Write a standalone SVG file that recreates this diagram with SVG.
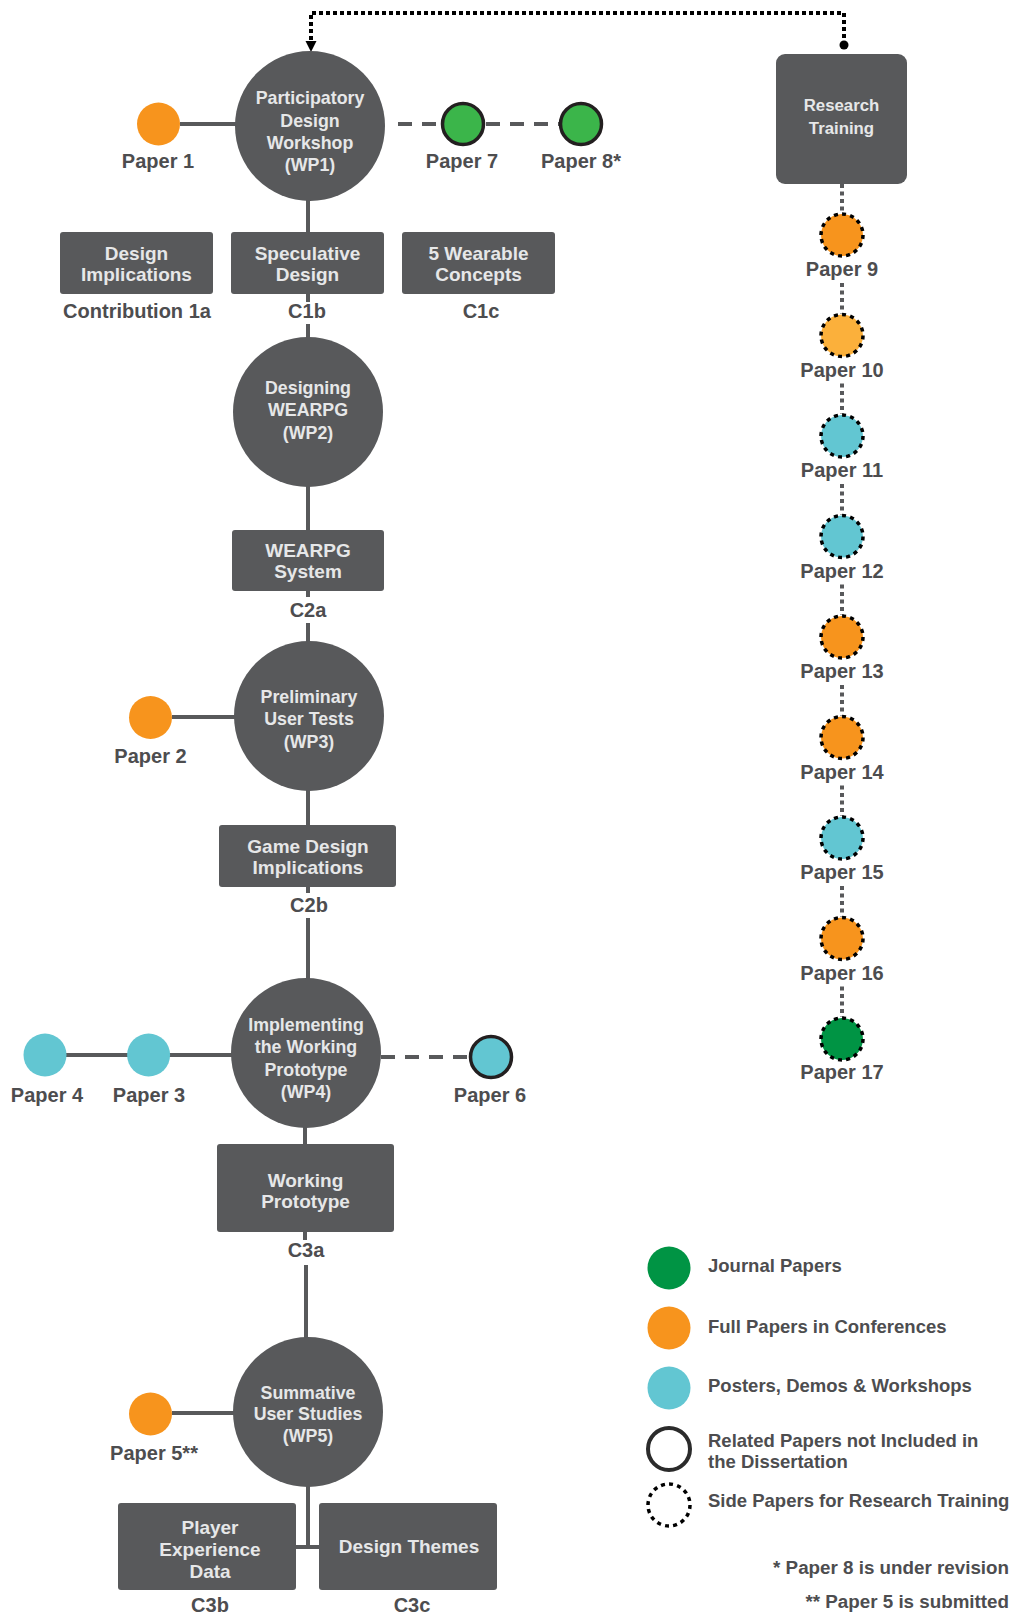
<svg xmlns="http://www.w3.org/2000/svg" width="1019" height="1617" viewBox="0 0 1019 1617">
<defs>
<style>
.wp{fill:#58595b}
.box{fill:#58595b}
.in{font-family:"Liberation Sans",Arial,sans-serif;font-weight:bold;fill:#e6e7e8;text-anchor:middle}
.wpt{font-size:17.8px}
.bxt{font-size:19px}
.lbl{font-family:"Liberation Sans",Arial,sans-serif;font-weight:bold;fill:#4d4d4f;font-size:20px;text-anchor:middle}
.leg{font-family:"Liberation Sans",Arial,sans-serif;font-weight:bold;fill:#4d4d4f;font-size:18.5px}
.foot{font-family:"Liberation Sans",Arial,sans-serif;font-weight:bold;fill:#4d4d4f;font-size:18.8px;text-anchor:end}
.solid{stroke:#58595b;stroke-width:4;fill:none}
.dash{stroke:#58595b;stroke-width:4;fill:none;stroke-dasharray:14 10}
.dot{stroke:#58595b;stroke-width:4;fill:none;stroke-dasharray:4 3.5}
.orange{fill:#f7941d}
.lorange{fill:#fbb03b}
.cyan{fill:#62c6d2}
.green{fill:#3bb54a}
.dgreen{fill:#009444}
.rel{stroke:#231f20;stroke-width:3.5}
.side{stroke:#000;stroke-width:3.5;stroke-dasharray:4 4.2}
</style>
<marker id="ah" markerUnits="userSpaceOnUse" markerWidth="12" markerHeight="12" refX="6" refY="10" orient="auto-start-reverse" viewBox="0 0 12 12">
<path d="M1,0 L11,0 L6,10 Z" fill="#000"/>
</marker>
</defs>

<g id="connectors">
<path d="M844,45 V13 H311 V42" fill="none" stroke="#000" stroke-width="4" stroke-dasharray="4 3"/>
<path d="M305.5,41 L316.5,41 L311,52 Z" fill="#000"/>
<circle cx="844" cy="45" r="4.5" fill="#000"/>
<line class="solid" x1="180" y1="124" x2="236" y2="124"/>
<line class="dash" x1="398" y1="124" x2="442" y2="124"/>
<line class="dash" x1="486" y1="124" x2="560" y2="124"/>
<line class="solid" x1="308" y1="200" x2="308" y2="233"/>
<line class="solid" x1="308" y1="293" x2="308" y2="302"/>
<line class="solid" x1="308" y1="324" x2="308" y2="338"/>
<line class="solid" x1="308" y1="486" x2="308" y2="531"/>
<line class="solid" x1="308" y1="590" x2="308" y2="597"/>
<line class="solid" x1="308" y1="623" x2="308" y2="642"/>
<line class="solid" x1="172" y1="717" x2="235" y2="717"/>
<line class="solid" x1="308" y1="790" x2="308" y2="826"/>
<line class="solid" x1="308" y1="886" x2="308" y2="893"/>
<line class="solid" x1="308" y1="918" x2="308" y2="979"/>
<line class="solid" x1="66" y1="1055" x2="232" y2="1055"/>
<line class="dash" x1="381" y1="1057" x2="470" y2="1057"/>
<line class="solid" x1="305" y1="1127" x2="305" y2="1145"/>
<line class="solid" x1="305" y1="1231" x2="305" y2="1240"/>
<line class="solid" x1="306" y1="1265" x2="306" y2="1338"/>
<line class="solid" x1="172" y1="1413" x2="234" y2="1413"/>
<path class="solid" d="M308,1486 V1547 M296,1547 H320"/>
<line class="dot" x1="842" y1="184" x2="842" y2="213"/>
<line class="dot" x1="842" y1="283" x2="842" y2="313.5"/>
<line class="dot" x1="842" y1="383.5" x2="842" y2="414"/>
<line class="dot" x1="842" y1="484" x2="842" y2="514.5"/>
<line class="dot" x1="842" y1="584.5" x2="842" y2="615"/>
<line class="dot" x1="842" y1="685" x2="842" y2="715.5"/>
<line class="dot" x1="842" y1="785.5" x2="842" y2="816"/>
<line class="dot" x1="842" y1="886" x2="842" y2="916.5"/>
<line class="dot" x1="842" y1="986.5" x2="842" y2="1017"/>
</g>

<g id="wp1">
<circle class="wp" cx="310" cy="126" r="75"/>
<text class="in wpt" x="310" y="104">Participatory</text>
<text class="in wpt" x="310" y="126.5">Design</text>
<text class="in wpt" x="310" y="149">Workshop</text>
<text class="in wpt" x="310" y="171">(WP1)</text>
</g>
<g id="paper1">
<circle class="orange" cx="158.5" cy="124" r="21.5"/>
<text class="lbl" x="158" y="168">Paper 1</text>
</g>
<g id="paper7">
<circle class="green rel" cx="463" cy="124" r="20.5"/>
<text class="lbl" x="462" y="168">Paper 7</text>
</g>
<g id="paper8">
<circle class="green rel" cx="581" cy="124" r="20.5"/>
<text class="lbl" x="581" y="168">Paper 8*</text>
</g>
<g id="c1a">
<rect class="box" x="60" y="232" width="153" height="62" rx="3"/>
<text class="in bxt" x="136.5" y="260">Design</text>
<text class="in bxt" x="136.5" y="280.5">Implications</text>
<text class="lbl" x="137" y="318">Contribution 1a</text>
</g>
<g id="c1b">
<rect class="box" x="231" y="232" width="153" height="62" rx="3"/>
<text class="in bxt" x="307.5" y="260">Speculative</text>
<text class="in bxt" x="307.5" y="280.5">Design</text>
<text class="lbl" x="307" y="318">C1b</text>
</g>
<g id="c1c">
<rect class="box" x="402" y="232" width="153" height="62" rx="3"/>
<text class="in bxt" x="478.5" y="260">5 Wearable</text>
<text class="in bxt" x="478.5" y="280.5">Concepts</text>
<text class="lbl" x="481" y="318">C1c</text>
</g>

<g id="wp2">
<circle class="wp" cx="308" cy="412" r="75"/>
<text class="in wpt" x="308" y="393.5">Designing</text>
<text class="in wpt" x="308" y="415.5">WEARPG</text>
<text class="in wpt" x="308" y="438.5">(WP2)</text>
</g>
<g id="c2a">
<rect class="box" x="232" y="530" width="152" height="61" rx="3"/>
<text class="in bxt" x="308" y="557">WEARPG</text>
<text class="in bxt" x="308" y="577.5">System</text>
<text class="lbl" x="308" y="617">C2a</text>
</g>

<g id="wp3">
<circle class="wp" cx="309" cy="716" r="75"/>
<text class="in wpt" x="309" y="702.5">Preliminary</text>
<text class="in wpt" x="309" y="724.5">User Tests</text>
<text class="in wpt" x="309" y="747.5">(WP3)</text>
</g>
<g id="paper2">
<circle class="orange" cx="150.5" cy="717.5" r="21.5"/>
<text class="lbl" x="150.5" y="763">Paper 2</text>
</g>
<g id="c2b">
<rect class="box" x="219" y="825" width="177" height="62" rx="3"/>
<text class="in bxt" x="308" y="853">Game Design</text>
<text class="in bxt" x="308" y="873.5">Implications</text>
<text class="lbl" x="309" y="912">C2b</text>
</g>

<g id="wp4">
<circle class="wp" cx="306" cy="1053" r="75"/>
<text class="in wpt" x="306" y="1030.5">Implementing</text>
<text class="in wpt" x="306" y="1053">the Working</text>
<text class="in wpt" x="306" y="1075.5">Prototype</text>
<text class="in wpt" x="306" y="1097.5">(WP4)</text>
</g>
<g id="paper4">
<circle class="cyan" cx="45" cy="1055" r="21.5"/>
<text class="lbl" x="47" y="1102">Paper 4</text>
</g>
<g id="paper3">
<circle class="cyan" cx="148.6" cy="1055" r="21.5"/>
<text class="lbl" x="149" y="1102">Paper 3</text>
</g>
<g id="paper6">
<circle class="cyan rel" cx="491" cy="1057" r="20.5"/>
<text class="lbl" x="490" y="1102">Paper 6</text>
</g>
<g id="c3a">
<rect class="box" x="217" y="1144" width="177" height="88" rx="3"/>
<text class="in bxt" x="305.5" y="1187">Working</text>
<text class="in bxt" x="305.5" y="1207.5">Prototype</text>
<text class="lbl" x="306" y="1257">C3a</text>
</g>

<g id="wp5">
<circle class="wp" cx="308" cy="1412" r="75"/>
<text class="in wpt" x="308" y="1398.5">Summative</text>
<text class="in wpt" x="308" y="1419.5">User Studies</text>
<text class="in wpt" x="308" y="1441.5">(WP5)</text>
</g>
<g id="paper5">
<circle class="orange" cx="150.5" cy="1414" r="21.5"/>
<text class="lbl" x="154" y="1460">Paper 5**</text>
</g>
<g id="c3b">
<rect class="box" x="118" y="1503" width="178" height="87" rx="3"/>
<text class="in bxt" x="210" y="1534">Player</text>
<text class="in bxt" x="210" y="1556">Experience</text>
<text class="in bxt" x="210" y="1578">Data</text>
<text class="lbl" x="210" y="1612">C3b</text>
</g>
<g id="c3c">
<rect class="box" x="319" y="1503" width="178" height="87" rx="3"/>
<text class="in bxt" x="409" y="1553">Design Themes</text>
<text class="lbl" x="412" y="1612">C3c</text>
</g>

<g id="research-training">
<rect class="box" x="776" y="54" width="131" height="130" rx="9"/>
<text class="in" x="841.5" y="111" font-size="16.8">Research</text>
<text class="in" x="841.5" y="134" font-size="16.8">Training</text>
</g>

<g id="paper9"><circle class="orange side" cx="842" cy="235" r="21"/><text class="lbl" x="842" y="276">Paper 9</text></g>
<g id="paper10"><circle class="lorange side" cx="842" cy="335.5" r="21"/><text class="lbl" x="842" y="376.5">Paper 10</text></g>
<g id="paper11"><circle class="cyan side" cx="842" cy="436" r="21"/><text class="lbl" x="842" y="477">Paper 11</text></g>
<g id="paper12"><circle class="cyan side" cx="842" cy="536.5" r="21"/><text class="lbl" x="842" y="577.5">Paper 12</text></g>
<g id="paper13"><circle class="orange side" cx="842" cy="637" r="21"/><text class="lbl" x="842" y="678">Paper 13</text></g>
<g id="paper14"><circle class="orange side" cx="842" cy="737.5" r="21"/><text class="lbl" x="842" y="778.5">Paper 14</text></g>
<g id="paper15"><circle class="cyan side" cx="842" cy="838" r="21"/><text class="lbl" x="842" y="879">Paper 15</text></g>
<g id="paper16"><circle class="orange side" cx="842" cy="938.5" r="21"/><text class="lbl" x="842" y="979.5">Paper 16</text></g>
<g id="paper17"><circle class="dgreen side" cx="842" cy="1039" r="21"/><text class="lbl" x="842" y="1079">Paper 17</text></g>

<g id="legend">
<circle class="dgreen" cx="669" cy="1268" r="21.5"/>
<text class="leg" x="708" y="1272">Journal Papers</text>
<circle class="orange" cx="669" cy="1328" r="21.5"/>
<text class="leg" x="708" y="1333">Full Papers in Conferences</text>
<circle class="cyan" cx="669" cy="1388" r="21.5"/>
<text class="leg" x="708" y="1392">Posters, Demos &amp; Workshops</text>
<circle cx="669" cy="1449" r="21" fill="#fff" stroke="#2b2b2b" stroke-width="4"/>
<text class="leg" x="708" y="1447">Related Papers not Included in</text>
<text class="leg" x="708" y="1468">the Dissertation</text>
<circle cx="669" cy="1505" r="21" fill="#fff" class="side"/>
<text class="leg" x="708" y="1507">Side Papers for Research Training</text>
<text class="foot" x="1009" y="1574">* Paper 8 is under revision</text>
<text class="foot" x="1009" y="1608">** Paper 5 is submitted</text>
</g>
</svg>
